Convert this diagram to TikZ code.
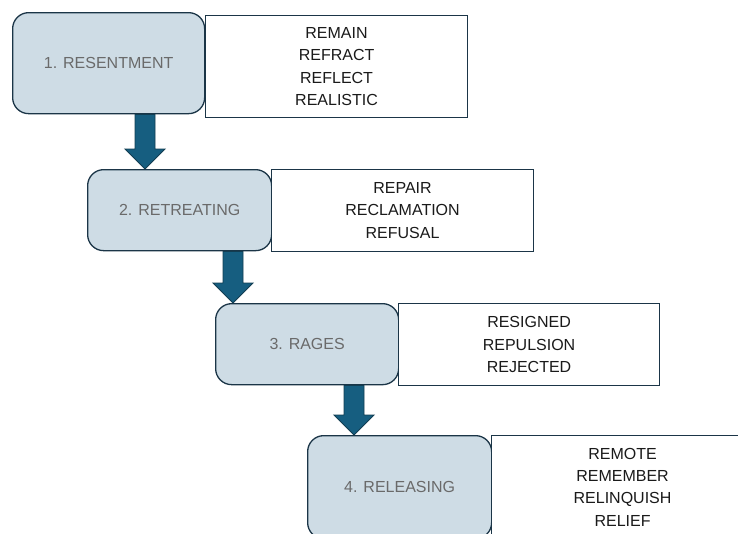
\documentclass[tikz,border=0pt]{standalone}
\usepackage{fontspec}
\setmainfont{Liberation Sans}
\usetikzlibrary{calc}
\definecolor{stagefill}{HTML}{CEDCE5}
\definecolor{stageline}{HTML}{1B3547}
\definecolor{stagetext}{HTML}{6A6A6A}
\definecolor{arrowfill}{HTML}{165E80}
\definecolor{arrowline}{HTML}{123D52}
\definecolor{wordtext}{HTML}{1A1A1A}
\tikzset{
  stagebox/.style={draw=stageline, line width=1.3pt, fill=stagefill, rounded corners=16pt,
    anchor=north west, inner sep=0pt, text=stagetext, font=\fontsize{16}{19}\selectfont},
  wordbox/.style={draw=stageline, line width=1.1pt, fill=white, anchor=north west,
    inner sep=0pt, align=center, text=wordtext, font=\fontsize{16}{22.3}\selectfont},
  blockarrow/.style={draw=arrowline, line width=0.9pt, fill=arrowfill, line join=miter}
}
\newcommand{\flowarrow}[3]{%
  \draw[blockarrow] let \p1=(#1.south), \p2=(#2.north) in
    ({#3pt-10pt},{\y1}) -- ({#3pt+10pt},{\y1}) -- ({#3pt+10pt},{\y2+20pt}) --
    ({#3pt+20pt},{\y2+20pt}) -- ({#3pt},{\y2}) -- ({#3pt-20pt},{\y2+20pt}) --
    ({#3pt-10pt},{\y2+20pt}) -- cycle;}
\begin{document}
\begin{tikzpicture}[x=1pt,y=-1pt]
\useasboundingbox (0,0) rectangle (738,533);
\clip (0,0) rectangle (738,533);
% stages
\node[stagebox, minimum width=192pt, minimum height=101pt] (b1) at (12,12) {1. RESENTMENT};
\node[stagebox, minimum width=184pt, minimum height=81pt] (b2) at (87,169) {2. RETREATING};
\node[stagebox, minimum width=183pt, minimum height=81pt] (b3) at (215,303) {3. RAGES};
\node[stagebox, minimum width=184pt, minimum height=103pt] (b4) at (307,435) {4. RELEASING};
% word boxes
\node[wordbox, minimum width=262pt, minimum height=102pt] (t1) at (205,15) {REMAIN\\REFRACT\\REFLECT\\REALISTIC};
\node[wordbox, minimum width=262pt, minimum height=82pt] (t2) at (271,169) {REPAIR\\RECLAMATION\\REFUSAL};
\node[wordbox, minimum width=261pt, minimum height=82pt] (t3) at (398,303) {RESIGNED\\REPULSION\\REJECTED};
\node[wordbox, minimum width=262pt, minimum height=103pt] (t4) at (491,435) {REMOTE\\REMEMBER\\RELINQUISH\\RELIEF};
% arrows
\flowarrow{b1}{b2}{145}
\flowarrow{b2}{b3}{233}
\flowarrow{b3}{b4}{354}
\end{tikzpicture}
\end{document}
